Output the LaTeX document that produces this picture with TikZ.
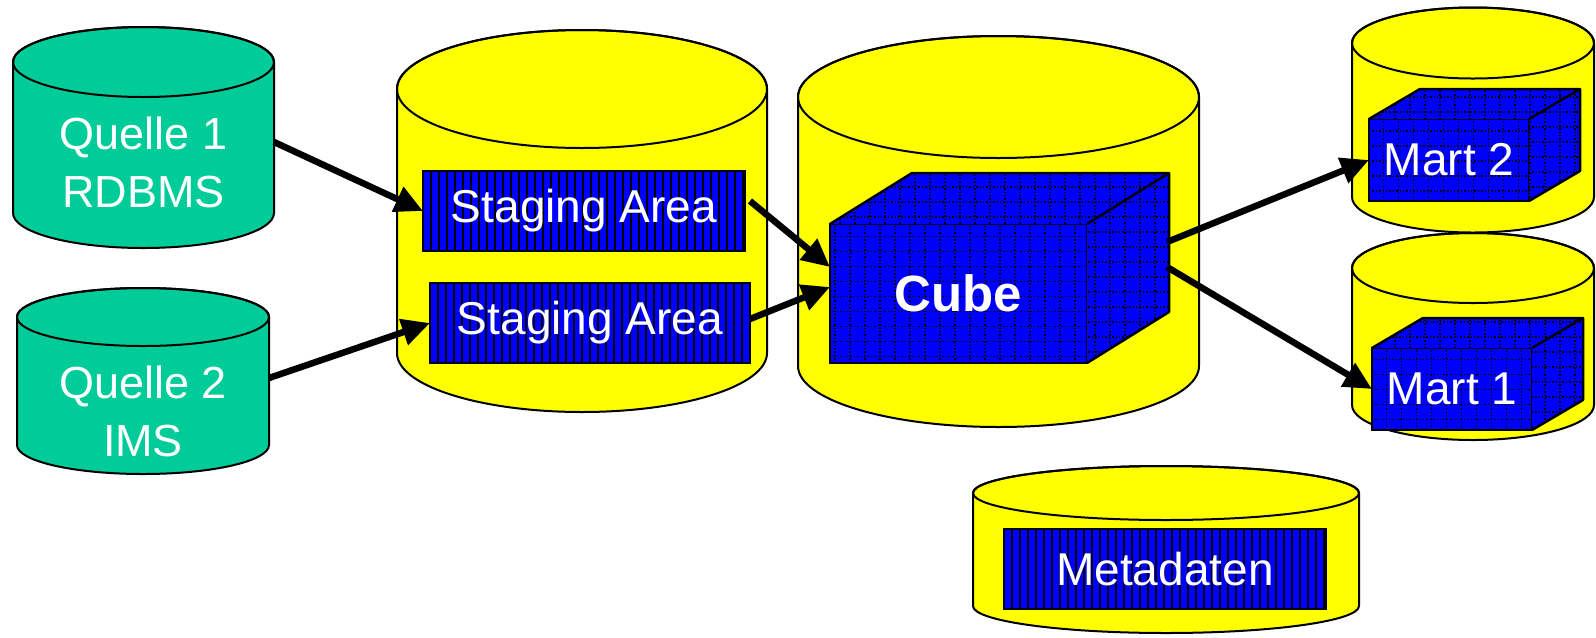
\documentclass[tikz,border=0pt]{standalone}
\usepackage{fontspec}
\setmainfont{Liberation Sans}
\usetikzlibrary{positioning,arrows.meta}

\definecolor{quellgruen}{RGB}{0,204,153}
\definecolor{gelb}{RGB}{255,255,0}
\definecolor{blau}{RGB}{0,0,255}

% database drum: cx, top y, bottom y, x radius, y radius, fill
\newcommand{\tonne}[6]{%
  \filldraw[fill=#6, line width=0.2mm] (#1-#4,#2) -- (#1-#4,#3)
    arc[start angle=180, end angle=360, x radius=#4, y radius=#5] -- (#1+#4,#2)
    arc[start angle=0, end angle=180, x radius=#4, y radius=#5] -- cycle;
  \draw[line width=0.2mm] (#1,#2) ellipse[x radius=#4, y radius=#5];
}

% top and right face of a cube node, depth dx dy
\newcommand{\seiten}[3]{%
  \fill[blau] (#1.north west) -- ++(#2,#3) -- ([shift={(#2,#3)}]#1.north east)
    -- ([shift={(#2,#3)}]#1.south east) -- (#1.south east) -- (#1.north east) -- cycle;
  \begin{scope}
    \clip (#1.north west) -- ++(#2,#3) -- ([shift={(#2,#3)}]#1.north east)
      -- ([shift={(#2,#3)}]#1.south east) -- (#1.south east) -- (#1.north east) -- cycle;
    \draw[gitter] (#1.south west) grid ([shift={(#2+1,#3+1)}]#1.north east);
  \end{scope}
  \draw[kante] (#1.north west) -- ++(#2,#3) -- ([shift={(#2,#3)}]#1.north east)
    -- ([shift={(#2,#3)}]#1.south east) -- (#1.south east);
  \draw[kante] (#1.north east) -- ++(#2,#3);
}

\tikzset{
  gitter/.style={line width=0.14mm, dash pattern=on 0.14mm off 0.2mm, step=1.5mm},
  kante/.style={line width=0.25mm, line join=round},
  quelle/.style={text=white, align=center, inner sep=0pt, outer sep=0pt,
    font=\fontsize{12.8}{16.5}\selectfont},
  stufe/.style={draw, fill=blau, line width=0.15mm, outer sep=0pt, text=white,
    minimum height=8mm, font=\fontsize{13.1}{16}\selectfont,
    path picture={\foreach \k in {1,...,40}
      \draw[line width=0.16mm] ([xshift=\k*0.8mm]path picture bounding box.south west)
        -- ([xshift=\k*0.8mm]path picture bounding box.north west);}},
  wuerfel/.style={draw, fill=blau, line width=0.25mm, outer sep=0pt, text=white,
    font=\fontsize{13.1}{16}\selectfont,
    path picture={\draw[gitter] (path picture bounding box.south west)
      grid (path picture bounding box.north east);}},
  pfeil/.style={line width=0.65mm, -{Triangle[length=2.8mm, width=2.6mm]}}
}

\begin{document}
\begin{tikzpicture}[x=1mm, y=1mm]
  \useasboundingbox (0,0) rectangle (159.6,63.7);

  % drums
  \tonne{14.35}{57.5}{42.4}{13.05}{3.5}{quellgruen}
  \tonne{14.3}{32.0}{19.2}{12.6}{2.9}{quellgruen}
  \tonne{58.2}{54.8}{28.4}{18.5}{5.9}{gelb}
  \tonne{99.85}{54.0}{27.1}{20.05}{6.1}{gelb}
  \tonne{147.3}{59.4}{44.0}{12.1}{3.55}{gelb}
  \tonne{147.3}{36.9}{23.2}{12.1}{3.5}{gelb}
  \tonne{116.6}{14.4}{3.1}{19.3}{2.7}{gelb}

  \node[quelle, minimum width=26.1mm] (q1) at (14.35,47.5) {Quelle 1\\RDBMS};
  \node[quelle, minimum width=25.2mm] (q2) at (14.3,22.6) {Quelle 2\\IMS};

  \node[stufe, minimum width=32.2mm] (sa1) at (58.4,42.6) {Staging Area};
  \node[stufe, minimum width=32.0mm] (sa2) at (59.0,31.4) {Staging Area};
  \node[stufe, minimum width=32.2mm] (meta) at (116.5,6.8) {Metadaten};

  \node[wuerfel, minimum width=25.7mm, minimum height=13.9mm,
    font=\bfseries\fontsize{14.5}{17}\selectfont] (cube) at (95.85,34.35) {Cube};
  \seiten{cube}{8.2}{5.1}
  \node[wuerfel, minimum width=16mm, minimum height=8.2mm] (m2) at (144.9,47.7) {Mart 2};
  \seiten{m2}{5.1}{3.0}
  \node[wuerfel, minimum width=16mm, minimum height=8.2mm] (m1) at (145.2,24.8) {Mart 1};
  \seiten{m1}{5.1}{3.0}

  % data flow
  \draw[pfeil] ([yshift=2mm]q1.east) -- (sa1.west);
  \draw[pfeil] ([yshift=3.3mm]q2.east) -- (sa2.west);
  \draw[pfeil] ([shift={(0.5,1.0)}]sa1.east) -- ([yshift=2.65mm]cube.west);
  \draw[pfeil] ([yshift=0.4mm]sa2.east) -- ([yshift=0.65mm]cube.west);
  \draw[pfeil] ([shift={(8.0,5.15)}]cube.east) -- (m2.west);
  \draw[pfeil] ([shift={(8.0,2.65)}]cube.east) -- (m1.west);
\end{tikzpicture}
\end{document}
